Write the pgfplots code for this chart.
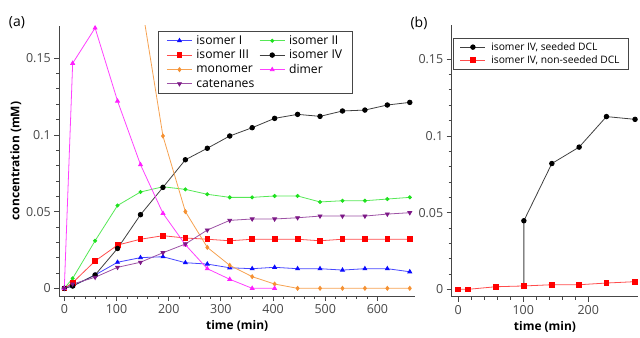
\documentclass[border=0pt]{standalone}
\usepackage{fontspec}
\setmainfont{Open Sans}
\usepackage{pgfplots}
\pgfplotsset{compat=1.18}

\definecolor{cI}{RGB}{10,10,255}
\definecolor{cII}{RGB}{30,225,30}
\definecolor{cIII}{RGB}{255,0,0}
\definecolor{cIV}{RGB}{0,0,0}
\definecolor{cmono}{RGB}{245,145,50}
\definecolor{cdim}{RGB}{255,30,255}
\definecolor{ccat}{RGB}{125,25,135}
\definecolor{axgray}{RGB}{70,70,70}

\pgfplotsset{
 panel/.style={
  scale only axis,
  axis x line*=bottom, axis y line*=left,
  axis line style={axgray, line width=0.9pt, -},
  tick align=outside,
  major tick length=5bp, minor tick length=3bp,
  every tick/.style={axgray, line width=0.8pt},
  minor x tick num=4, minor y tick num=4,
  ytick={0,0.05,0.1,0.15}, yticklabels={0,0.05,0.1,0.15},
  tick label style={font=\fontsize{12.5}{14}\selectfont, text=black!72},
  /pgf/number format/assume math mode=true,
  label style={font=\bfseries\fontsize{12}{14}\selectfont},
  legend style={draw=axgray, line width=0.6pt, fill=white, cells={anchor=west}},
  legend image code/.code={\draw[mark repeat=2,mark phase=2,##1] plot coordinates {(0bp,0bp)(12.5bp,0bp)(25bp,0bp)};},
 }
}

\begin{document}
\begin{tikzpicture}
\useasboundingbox (0,0) rectangle (640bp,338bp);

\begin{axis}[panel,
  at={(59.3bp,42bp)}, anchor=south west,
  width=355.7bp, height=270bp,
  xmin=-9.6, xmax=672, ymin=-0.005, ymax=0.171,
  xtick={0,100,200,300,400,500,600},
  xlabel={time (min)}, ylabel={concentration (mM)},
  ylabel style={xshift=0bp, yshift=-2bp},
  legend columns=2,
  legend style={at={(rel axis cs:0.2783,0.9826)}, anchor=north west,
    font=\fontsize{12.2}{13}\selectfont, inner xsep=8bp, inner ysep=2.5bp, row sep=0pt,
    /tikz/every odd column/.append style={column sep=2bp},
    /tikz/every even column/.append style={column sep=3bp}},
]
\addplot[color=cI!75, line width=0.8pt, mark=triangle*, mark size=2.2pt, mark options={fill=cI, draw=cI}] coordinates {
(0,0)(16,0.0015)(59,0.0087)(102,0.017)(146,0.020)(189,0.0206)(232,0.0167)(274,0.0158)(317,0.0134)(360,0.0128)(403,0.0137)(447,0.0128)(490,0.0128)(533,0.0119)(576,0.0128)(619,0.0128)(662,0.0108)};
\addlegendentry{isomer I}
\addplot[color=cII!75, line width=0.8pt, mark=*, mark size=1.6pt, mark options={fill=cII, draw=cII}] coordinates {
(0,0)(16,0.0065)(59,0.031)(102,0.054)(146,0.0628)(189,0.0662)(232,0.0645)(274,0.0613)(317,0.0593)(360,0.0593)(403,0.0602)(447,0.0602)(490,0.0563)(533,0.0571)(576,0.0571)(619,0.0582)(662,0.0593)};
\addlegendentry{isomer II}
\addplot[color=cIII!70, line width=0.8pt, mark=square*, mark size=2.4pt, mark options={fill=cIII, draw=cIII}] coordinates {
(0,0)(16,0.0037)(59,0.0178)(102,0.0282)(146,0.032)(189,0.0343)(232,0.0328)(274,0.032)(317,0.031)(360,0.032)(403,0.032)(447,0.032)(490,0.031)(533,0.032)(576,0.032)(619,0.032)(662,0.032)};
\addlegendentry{isomer III}
\addplot[color=cIV!75, line width=0.8pt, mark=*, mark size=2.3pt, mark options={fill=cIV, draw=cIV}] coordinates {
(0,0)(16,0.0015)(59,0.0087)(102,0.026)(146,0.048)(189,0.0658)(232,0.0838)(274,0.0913)(317,0.0993)(360,0.1047)(403,0.1108)(447,0.1134)(490,0.1121)(533,0.1156)(576,0.1162)(619,0.1195)(662,0.1212)};
\addlegendentry{isomer IV}
\addplot[color=cmono!85, line width=0.8pt, mark=diamond*, mark size=2pt, mark options={fill=cmono, draw=cmono}] coordinates {
(102,0.27)(146,0.19)(189,0.0993)(232,0.05)(274,0.0267)(317,0.015)(360,0.0076)(403,0.0028)(447,0)(490,0)(533,0)(576,0)(619,0)(662,0)};
\addlegendentry{monomer}
\addplot[color=cdim!85, line width=0.8pt, mark=triangle*, mark size=2.2pt, mark options={fill=cdim, draw=cdim}] coordinates {
(0,0)(16,0.1467)(59,0.1697)(102,0.1221)(146,0.0806)(189,0.0489)(232,0.0284)(274,0.0128)(317,0.0059)(360,0)(403,0)};
\addlegendentry{dimer}
\addplot[color=ccat!75, line width=0.8pt, mark=triangle*, mark size=2.2pt, mark options={fill=ccat, draw=ccat, rotate=180}] coordinates {
(0,0)(16,0.0028)(59,0.0072)(102,0.0137)(146,0.017)(189,0.0232)(232,0.0289)(274,0.038)(317,0.0443)(360,0.0452)(403,0.0452)(447,0.046)(490,0.0471)(533,0.0471)(576,0.0471)(619,0.0484)(662,0.0493)};
\addlegendentry{catenanes}
\end{axis}

\begin{axis}[panel,
  at={(451.7bp,41.3bp)}, anchor=south west,
  width=186.6bp, height=271.7bp,
  xmin=-10, xmax=277, ymin=-0.0048, ymax=0.1723,
  xtick={0,100,200},
  xlabel={time (min)},
  legend style={at={(rel axis cs:0.0054,0.9533)}, anchor=north west,
    font=\fontsize{10.3}{11}\selectfont, inner xsep=7bp, inner ysep=2.5bp, row sep=-0.5pt,
    /tikz/every odd column/.append style={column sep=3.5bp}},
]
\addplot[color=cIV!75, line width=0.8pt, mark=*, mark size=2.3pt, mark options={fill=cIV, draw=cIV}] coordinates {
(101,0.0022)(101,0.0447)(144,0.082)(186,0.0927)(228,0.1126)(272,0.1108)};
\addlegendentry{isomer IV, seeded DCL}
\addplot[color=cIII!70, line width=0.8pt, mark=square*, mark size=2.4pt, mark options={fill=cIII, draw=cIII}] coordinates {
(0,0)(15,0)(58,0.0017)(101,0.0022)(144,0.003)(186,0.003)(228,0.0041)(272,0.005)};
\addlegendentry{isomer IV, non-seeded DCL}
\end{axis}

\node[font=\fontsize{14}{16}\selectfont] at (17bp,315bp) {(a)};
\node[font=\fontsize{14}{16}\selectfont] at (419bp,315bp) {(b)};
\end{tikzpicture}
\end{document}
